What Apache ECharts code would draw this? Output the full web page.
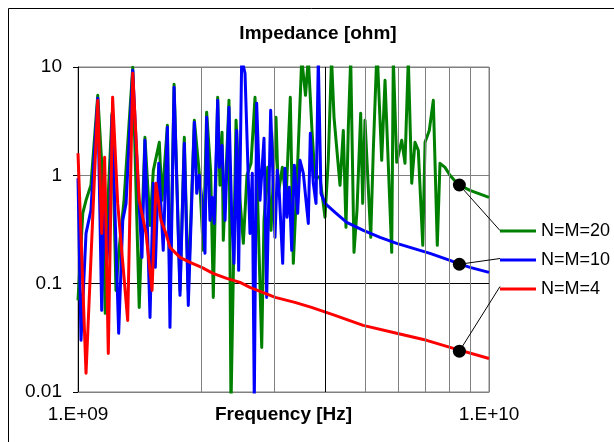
<!DOCTYPE html>
<html>
<head>
<meta charset="utf-8">
<script src="https://cdn.jsdelivr.net/npm/echarts@6/dist/echarts.min.js"></script>
<style>
html,body{margin:0;padding:0;background:#fff;}
#chart{width:614px;height:442px;}
</style>
</head>
<body>
<div id="chart"></div>
<script>
// Frequency in GHz (axis labels show Hz), impedance in ohm
const freqRed = [1.000,1.046,1.117,1.142,1.161,1.185,1.214,1.249,1.321,1.359,1.409,1.464,1.514,1.548,1.592,1.637,1.674,1.771,1.873,2.000,2.130,2.300,2.480,2.620,3.020,3.370,3.700,4.220,4.940,5.960,7.050,8.040,10.00];
const zRed = [1.60,0.0149,4.93,0.291,1.47,0.0227,5.25,0.551,0.0458,8.74,0.588,0.291,0.0867,0.844,0.384,0.291,0.216,0.175,0.157,0.1414,0.1245,0.112,0.1028,0.0924,0.0747,0.0672,0.0604,0.0510,0.0412,0.0348,0.0300,0.0258,0.0204];

const freqBlue = [1.000,1.017,1.046,1.075,1.117,1.142,1.159,1.173,1.193,1.210,
1.256,1.285,1.309,1.359,1.397,1.431,1.455,1.497,1.525,1.542,
1.572,1.612,1.650,1.674,1.713,1.771,1.814,1.855,1.919,1.945,
1.973,2.000,2.037,2.056,2.095,2.122,2.146,2.187,2.207,2.241,
2.279,2.330,2.366,2.396,2.433,2.460,2.502,2.549,2.621,2.655,
2.685,2.721,2.772,2.835,2.878,2.943,3.015,3.054,3.089,3.148,
3.189,3.225,3.267,3.311,3.360,3.424,3.469,3.534,3.587,3.634,
3.675,3.737,3.794,3.843,3.901,3.990,4.221,4.506,4.945,5.431,
5.963,6.544,7.185,8.035,8.400,8.990,10.00];
const zBlue = [0.938,0.0300,0.291,0.475,5.14,0.0567,1.112,0.1476,0.345,3.58,
0.0348,0.384,0.551,9.32,0.958,0.175,2.105,0.0488,0.844,0.1414,
1.291,0.203,2.775,0.0395,6.49,0.078,1.975,0.063,3.09,0.682,
1.0,0.626,0.1905,3.43,0.384,0.626,0.360,4.93,1.185,1.892,
0.384,4.25,0.410,0.154,2.60,0.1327,12,8.75,0.291,1.043,
0.008,4.62,0.588,2.196,0.0747,3.98,0.2677,1.112,0.682,0.154,
1.16,0.41,0.775,0.203,1.237,0.446,1.375,1.043,0.588,0.36,
2.443,0.844,0.551,12,0.682,0.551,0.455,0.368,0.3106,0.2677,
0.2355,0.2118,0.1905,0.1641,0.154,0.1414,0.1272];

const freqGreen = [1.000,1.027,1.046,1.075,1.117,1.142,1.165,1.183,1.210,1.237,
1.258,1.294,1.359,1.409,1.455,1.497,1.525,1.577,1.601,1.650,
1.674,1.713,1.771,1.814,1.855,1.919,1.973,2.018,2.056,2.103,
2.134,2.187,2.215,2.241,2.257,2.330,2.356,2.424,2.479,2.525,
2.577,2.636,2.696,2.747,2.799,2.835,2.895,2.949,3.032,3.072,
3.142,3.207,3.285,3.341,3.411,3.502,3.577,3.634,3.709,3.772,
3.879,3.990,4.064,4.139,4.197,4.340,4.421,4.488,4.547,4.608,
4.694,4.773,4.873,4.928,4.992,5.155,5.230,5.340,5.482,5.585,
5.798,5.850,5.963,6.133,6.246,6.363,6.486,6.606,6.730,6.900,
6.989,7.157,7.320,7.485,7.599,7.816,8.035,8.400,8.990,10.00];
const zGreen = [0.0701,0.446,0.588,0.809,5.48,1.318,0.0532,0.588,3.737,0.0867,
0.203,0.588,9.94,0.0604,2.243,0.345,1.112,2.017,0.588,2.896,
0.0701,6.92,0.0867,2.243,0.0867,3.22,1.043,0.203,3.816,1.066,
0.0747,5.25,0.809,2.495,0.251,4.93,0.007,3.22,0.588,0.2355,
1.0,1.291,5.25,0.331,0.0258,0.384,1.185,0.3106,3.43,0.682,
1.185,0.588,5.25,0.154,0.899,12,5.48,12,2.60,0.958,
0.958,0.41,1.375,12,3.43,0.809,2.60,0.331,2.775,12,
0.1945,0.475,3.737,0.551,3.22,0.2677,1.702,15,1.375,7.54,
0.1945,12,1.318,2.105,1.291,12,0.844,2.017,1.702,0.2258,
2.017,2.60,4.93,0.2258,1.291,1.185,1.0,0.826,0.727,0.626];

const seriesNames = ['N=M=20','N=M=10','N=M=4'];
const seriesColors = ['#008000','#0000FF','#FF0000'];
const dotFreq = 8.47;
const dotValues = [0.814, 0.151, 0.0238];
const minorGridFreq = [2,3,4,5,6,7,8,9];
const yTickLabels = {0.01:'0.01', 0.1:'0.1', 1:'1', 10:'10'};
const xTickLabels = {1:'1.E+09', 10:'1.E+10'};

const FONT = 'Arial, "Liberation Sans", sans-serif';
const zip = (xs, ys) => xs.map((x, i) => [x, ys[i]]);

const chart = echarts.init(document.getElementById('chart'), null, {renderer: 'canvas'});

const legendLeft = 500, legendTop = 222, itemH = 3, itemGap = 11;
const legendRowCenters = [230.5, 258.5, 286.5];

const option = {
  animation: false,
  backgroundColor: '#fff',
  title: [{
    text: 'Impedance [ohm]',
    left: 318, top: 24, textAlign: 'center', padding: 0,
    textStyle: {fontFamily: FONT, fontSize: 19, fontWeight: 'bold', color: '#000'}
  }, {
    text: 'Frequency [Hz]',
    left: 283.5, top: 405, textAlign: 'center', padding: 0,
    textStyle: {fontFamily: FONT, fontSize: 19, fontWeight: 'bold', color: '#000'}
  }],
  grid: {left: 78, right: 125, top: 67, bottom: 50, show: true, borderColor: '#808080', borderWidth: 1,
         containLabel: false, outerBoundsMode: 'none'},
  legend: {
    orient: 'vertical', left: legendLeft, top: legendTop,
    itemWidth: 36, itemHeight: itemH, itemGap: itemGap,
    icon: 'rect',
    data: seriesNames,
    textStyle: {fontFamily: FONT, fontSize: 18, color: '#000'},
    padding: 0,
    selectedMode: false
  },
  xAxis: {
    type: 'log', logBase: 10, min: 1, max: 10,
    axisLine: {show: true, lineStyle: {color: '#808080', width: 1}},
    axisTick: {show: false},
    splitLine: {show: true, lineStyle: {color: '#808080', width: 1}},
    axisLabel: {
      fontFamily: FONT, fontSize: 19, color: '#000', margin: 13,
      showMinLabel: true, showMaxLabel: true,
      formatter: v => xTickLabels[Math.round(v)] || ''
    }
  },
  yAxis: {
    type: 'log', logBase: 10, min: 0.01, max: 10,
    axisLine: {show: true, lineStyle: {color: '#000', width: 1}},
    axisTick: {show: true, length: 5, inside: false, lineStyle: {color: '#000'}},
    splitLine: {show: true, lineStyle: {color: ['#808080', '#000000', '#808080', '#808080'], width: 1}},
    axisLabel: {
      fontFamily: FONT, fontSize: 19, color: '#000', margin: 16,
      formatter: v => yTickLabels[+v.toPrecision(3)] || String(v)
    }
  },
  series: [
    {
      name: seriesNames[0], type: 'line', symbol: 'none', data: zip(freqGreen, zGreen),
      lineStyle: {color: seriesColors[0], width: 3, join: 'round'}, itemStyle: {color: seriesColors[0]},
      z: 2, clip: true,
      markLine: {
        silent: true, symbol: 'none', label: {show: false},
        lineStyle: {type: 'solid', width: 1},
        data: minorGridFreq.map(f => ({xAxis: f, lineStyle: {color: f === 4 ? '#000' : '#808080', type: 'solid', width: 1}}))
      }
    },
    {
      name: seriesNames[1], type: 'line', symbol: 'none', data: zip(freqBlue, zBlue),
      lineStyle: {color: seriesColors[1], width: 3, join: 'round'}, itemStyle: {color: seriesColors[1]},
      z: 3, clip: true
    },
    {
      name: seriesNames[2], type: 'line', symbol: 'none', data: zip(freqRed, zRed),
      lineStyle: {color: seriesColors[2], width: 3, join: 'round'}, itemStyle: {color: seriesColors[2]},
      z: 4, clip: true
    },
    {
      name: 'markers', type: 'scatter', symbol: 'circle', symbolSize: 13,
      data: dotValues.map(v => [dotFreq, v]),
      itemStyle: {color: '#000', opacity: 1}, z: 6, silent: true
    }
  ]
};
chart.setOption(option);

// Leader lines from marker dots to the legend entries
const graphics = [
  {type: 'rect', shape: {x: 8.5, y: 8.5, width: 700, height: 600}, style: {fill: 'none', stroke: '#000', lineWidth: 1}, z: 0, silent: true}
];
dotValues.forEach((v, i) => {
  const p = chart.convertToPixel({gridIndex: 0}, [dotFreq, v]);
  graphics.push({
    type: 'line', z: 100, silent: true,
    shape: {x1: p[0], y1: p[1], x2: legendLeft, y2: legendRowCenters[i]},
    style: {stroke: '#000', lineWidth: 1}
  });
});
chart.setOption({graphic: graphics});
</script>
</body>
</html>
